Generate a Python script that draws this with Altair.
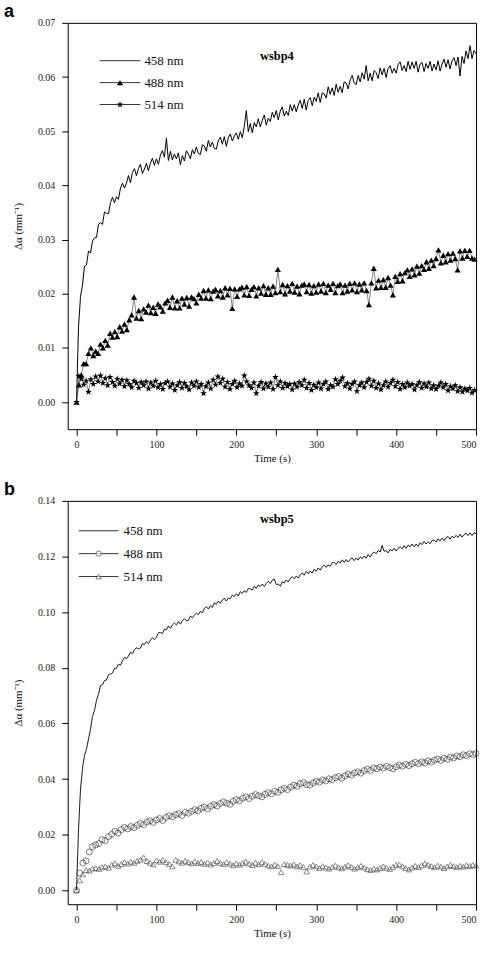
import altair as alt
import numpy as np
import pandas as pd

# ---------------- sample times ----------------
T_LINE = np.arange(0, 500.01, 2.5)      # continuous 458 nm traces
T_TOP_MARK = np.arange(0, 498.01, 3)    # wsbp4 488 / 514 nm traces
T_BOT_MARK = np.arange(0, 500.01, 4)    # wsbp5 488 / 514 nm traces

# ---------------- wsbp4 (mm^-1) ----------------
wsbp4_458 = [
    0.0000, 0.0138, 0.0195, 0.0216, 0.0251, 0.0253, 0.0279, 0.0275, 0.0297, 0.0303,
    0.0304, 0.0328, 0.0331, 0.0328, 0.0351, 0.0348, 0.0348, 0.0368, 0.0378, 0.0368,
    0.0379, 0.0374, 0.0395, 0.0404, 0.0395, 0.0404, 0.0418, 0.0405, 0.0424, 0.0431,
    0.0418, 0.0431, 0.0439, 0.0422, 0.0430, 0.0441, 0.0427, 0.0441, 0.0450, 0.0437,
    0.0449, 0.0439, 0.0456, 0.0464, 0.0452, 0.0487, 0.0446, 0.0463, 0.0447, 0.0458,
    0.0449, 0.0460, 0.0438, 0.0455, 0.0445, 0.0464, 0.0458, 0.0449, 0.0466, 0.0458,
    0.0471, 0.0459, 0.0457, 0.0475, 0.0473, 0.0463, 0.0483, 0.0471, 0.0480, 0.0468,
    0.0467, 0.0483, 0.0489, 0.0476, 0.0490, 0.0472, 0.0488, 0.0495, 0.0482, 0.0491,
    0.0497, 0.0485, 0.0499, 0.0488, 0.0509, 0.0538, 0.0499, 0.0514, 0.0497, 0.0516,
    0.0508, 0.0523, 0.0508, 0.0520, 0.0530, 0.0511, 0.0524, 0.0518, 0.0535, 0.0525,
    0.0538, 0.0521, 0.0537, 0.0545, 0.0528, 0.0537, 0.0529, 0.0549, 0.0537, 0.0549,
    0.0536, 0.0548, 0.0557, 0.0542, 0.0559, 0.0539, 0.0557, 0.0562, 0.0547, 0.0563,
    0.0555, 0.0571, 0.0553, 0.0571, 0.0569, 0.0561, 0.0582, 0.0568, 0.0580, 0.0566,
    0.0587, 0.0572, 0.0583, 0.0571, 0.0591, 0.0589, 0.0578, 0.0595, 0.0603, 0.0589,
    0.0586, 0.0603, 0.0591, 0.0608, 0.0596, 0.0621, 0.0593, 0.0607, 0.0593, 0.0612,
    0.0608, 0.0597, 0.0617, 0.0604, 0.0616, 0.0599, 0.0616, 0.0621, 0.0607, 0.0616,
    0.0607, 0.0623, 0.0628, 0.0612, 0.0621, 0.0610, 0.0629, 0.0614, 0.0628, 0.0616,
    0.0629, 0.0609, 0.0624, 0.0627, 0.0610, 0.0625, 0.0616, 0.0629, 0.0611, 0.0624,
    0.0613, 0.0630, 0.0611, 0.0624, 0.0633, 0.0618, 0.0632, 0.0615, 0.0630, 0.0636,
    0.0621, 0.0637, 0.0602, 0.0638, 0.0625, 0.0648, 0.0634, 0.0658, 0.0634, 0.0649,
    0.0643,
]

wsbp4_488 = [
    0.0000, 0.0032, 0.0050, 0.0071, 0.0071, 0.0090, 0.0100, 0.0086, 0.0094, 0.0090,
    0.0107, 0.0100, 0.0114, 0.0105, 0.0127, 0.0120, 0.0130, 0.0121, 0.0139, 0.0131,
    0.0144, 0.0134, 0.0152, 0.0161, 0.0194, 0.0155, 0.0169, 0.0154, 0.0172, 0.0166,
    0.0179, 0.0165, 0.0175, 0.0164, 0.0181, 0.0176, 0.0168, 0.0183, 0.0188, 0.0175,
    0.0194, 0.0174, 0.0187, 0.0174, 0.0192, 0.0181, 0.0193, 0.0177, 0.0194, 0.0191,
    0.0183, 0.0199, 0.0192, 0.0206, 0.0192, 0.0207, 0.0191, 0.0205, 0.0208, 0.0196,
    0.0206, 0.0194, 0.0211, 0.0198, 0.0210, 0.0173, 0.0209, 0.0195, 0.0209, 0.0212,
    0.0198, 0.0213, 0.0197, 0.0208, 0.0213, 0.0196, 0.0211, 0.0201, 0.0215, 0.0199,
    0.0211, 0.0199, 0.0214, 0.0202, 0.0245, 0.0204, 0.0217, 0.0200, 0.0215, 0.0205,
    0.0219, 0.0203, 0.0214, 0.0200, 0.0216, 0.0218, 0.0204, 0.0217, 0.0201, 0.0215,
    0.0203, 0.0218, 0.0205, 0.0219, 0.0202, 0.0216, 0.0208, 0.0219, 0.0202, 0.0215,
    0.0218, 0.0202, 0.0216, 0.0205, 0.0219, 0.0207, 0.0220, 0.0204, 0.0218, 0.0207,
    0.0220, 0.0206, 0.0180, 0.0220, 0.0247, 0.0211, 0.0225, 0.0212, 0.0226, 0.0212,
    0.0230, 0.0216, 0.0198, 0.0232, 0.0223, 0.0237, 0.0224, 0.0239, 0.0244, 0.0232,
    0.0246, 0.0235, 0.0251, 0.0238, 0.0252, 0.0245, 0.0259, 0.0247, 0.0262, 0.0252,
    0.0265, 0.0281, 0.0257, 0.0271, 0.0259, 0.0274, 0.0262, 0.0275, 0.0265, 0.0244,
    0.0279, 0.0266, 0.0280, 0.0269, 0.0280, 0.0266, 0.0264,
]

wsbp4_514 = [
    0.0000, 0.0048, 0.0043, 0.0032, 0.0039, 0.0019, 0.0042, 0.0033, 0.0047, 0.0038,
    0.0049, 0.0035, 0.0044, 0.0031, 0.0046, 0.0037, 0.0030, 0.0043, 0.0034, 0.0041,
    0.0029, 0.0040, 0.0033, 0.0027, 0.0039, 0.0035, 0.0026, 0.0037, 0.0031, 0.0038,
    0.0025, 0.0036, 0.0030, 0.0039, 0.0027, 0.0033, 0.0024, 0.0035, 0.0038, 0.0028,
    0.0034, 0.0022, 0.0031, 0.0037, 0.0026, 0.0035, 0.0029, 0.0023, 0.0036, 0.0030,
    0.0038, 0.0027, 0.0033, 0.0016, 0.0029, 0.0036, 0.0025, 0.0041, 0.0032, 0.0047,
    0.0035, 0.0043, 0.0028, 0.0037, 0.0024, 0.0033, 0.0039, 0.0027, 0.0034, 0.0030,
    0.0049, 0.0038, 0.0031, 0.0026, 0.0036, 0.0016, 0.0030, 0.0037, 0.0025, 0.0034,
    0.0028, 0.0036, 0.0024, 0.0046, 0.0031, 0.0038, 0.0026, 0.0035, 0.0029, 0.0033,
    0.0023, 0.0034, 0.0028, 0.0037, 0.0031, 0.0041, 0.0026, 0.0035, 0.0022, 0.0032,
    0.0027, 0.0036, 0.0025, 0.0033, 0.0038, 0.0024, 0.0031, 0.0028, 0.0042, 0.0033,
    0.0039, 0.0045, 0.0029, 0.0035, 0.0025, 0.0033, 0.0038, 0.0020, 0.0031, 0.0036,
    0.0027, 0.0037, 0.0043, 0.0030, 0.0039, 0.0026, 0.0034, 0.0023, 0.0031, 0.0038,
    0.0028, 0.0035, 0.0041, 0.0029, 0.0037, 0.0024, 0.0033, 0.0027, 0.0036, 0.0030,
    0.0033, 0.0023, 0.0031, 0.0037, 0.0026, 0.0034, 0.0028, 0.0036, 0.0025, 0.0031,
    0.0024, 0.0030, 0.0036, 0.0027, 0.0033, 0.0021, 0.0029, 0.0025, 0.0031, 0.0020,
    0.0027, 0.0019, 0.0025, 0.0021, 0.0026, 0.0017, 0.0022,
]

# ---------------- wsbp5 (mm^-1) ----------------
wsbp5_458 = [
    0.0000, 0.0217, 0.0364, 0.0438, 0.0485, 0.0507, 0.0544, 0.0578, 0.0625, 0.0646,
    0.0683, 0.0705, 0.0736, 0.0739, 0.0754, 0.0756, 0.0775, 0.0778, 0.0781, 0.0798,
    0.0798, 0.0813, 0.0809, 0.0825, 0.0837, 0.0833, 0.0842, 0.0856, 0.0851, 0.0864,
    0.0872, 0.0868, 0.0871, 0.0887, 0.0883, 0.0894, 0.0887, 0.0899, 0.0908, 0.0901,
    0.0910, 0.0926, 0.0927, 0.0923, 0.0939, 0.0936, 0.0950, 0.0942, 0.0954, 0.0961,
    0.0954, 0.0966, 0.0957, 0.0969, 0.0976, 0.0970, 0.0970, 0.0986, 0.0980, 0.0989,
    0.0996, 0.0991, 0.1003, 0.0998, 0.1013, 0.1020, 0.1011, 0.1023, 0.1017, 0.1033,
    0.1028, 0.1040, 0.1032, 0.1044, 0.1050, 0.1040, 0.1051, 0.1048, 0.1061, 0.1056,
    0.1066, 0.1058, 0.1074, 0.1067, 0.1077, 0.1071, 0.1085, 0.1084, 0.1079, 0.1093,
    0.1086, 0.1098, 0.1092, 0.1101, 0.1092, 0.1103, 0.1111, 0.1103, 0.1115, 0.1119,
    0.1099, 0.1101, 0.1093, 0.1109, 0.1105, 0.1116, 0.1108, 0.1121, 0.1127, 0.1120,
    0.1130, 0.1122, 0.1134, 0.1141, 0.1133, 0.1146, 0.1138, 0.1148, 0.1140, 0.1154,
    0.1147, 0.1159, 0.1151, 0.1163, 0.1169, 0.1161, 0.1170, 0.1165, 0.1178, 0.1178,
    0.1171, 0.1183, 0.1177, 0.1188, 0.1179, 0.1189, 0.1180, 0.1190, 0.1195, 0.1185,
    0.1195, 0.1187, 0.1199, 0.1192, 0.1202, 0.1194, 0.1207, 0.1198, 0.1210, 0.1216,
    0.1210, 0.1222, 0.1216, 0.1240, 0.1219, 0.1221, 0.1213, 0.1226, 0.1220, 0.1230,
    0.1220, 0.1230, 0.1235, 0.1228, 0.1239, 0.1230, 0.1241, 0.1235, 0.1245, 0.1235,
    0.1245, 0.1237, 0.1249, 0.1243, 0.1254, 0.1245, 0.1253, 0.1246, 0.1258, 0.1259,
    0.1252, 0.1264, 0.1256, 0.1266, 0.1257, 0.1267, 0.1272, 0.1262, 0.1273, 0.1267,
    0.1276, 0.1268, 0.1280, 0.1270, 0.1279, 0.1284, 0.1275, 0.1285, 0.1275, 0.1286,
    0.1281,
]

wsbp5_488 = [
    0.0000, 0.0062, 0.0098, 0.0106, 0.0138, 0.0157, 0.0163, 0.0168, 0.0182, 0.0179,
    0.0193, 0.0201, 0.0212, 0.0206, 0.0218, 0.0226, 0.0221, 0.0229, 0.0225, 0.0234,
    0.0240, 0.0236, 0.0245, 0.0250, 0.0244, 0.0253, 0.0258, 0.0251, 0.0262, 0.0268,
    0.0264, 0.0272, 0.0276, 0.0269, 0.0280, 0.0277, 0.0284, 0.0290, 0.0286, 0.0295,
    0.0299, 0.0293, 0.0302, 0.0308, 0.0303, 0.0312, 0.0318, 0.0313, 0.0309, 0.0320,
    0.0326, 0.0322, 0.0331, 0.0336, 0.0330, 0.0338, 0.0344, 0.0340, 0.0336, 0.0345,
    0.0351, 0.0347, 0.0356, 0.0352, 0.0361, 0.0367, 0.0362, 0.0371, 0.0378, 0.0374,
    0.0383, 0.0387, 0.0380, 0.0378, 0.0386, 0.0392, 0.0389, 0.0397, 0.0393, 0.0401,
    0.0398, 0.0405, 0.0409, 0.0403, 0.0411, 0.0418, 0.0414, 0.0422, 0.0426, 0.0421,
    0.0430, 0.0436, 0.0431, 0.0440, 0.0437, 0.0443, 0.0439, 0.0446, 0.0441, 0.0437,
    0.0444, 0.0450, 0.0446, 0.0453, 0.0448, 0.0455, 0.0460, 0.0455, 0.0462, 0.0458,
    0.0465, 0.0461, 0.0468, 0.0472, 0.0467, 0.0475, 0.0471, 0.0479, 0.0476, 0.0483,
    0.0480, 0.0487, 0.0484, 0.0491, 0.0488, 0.0492,
]

wsbp5_514 = [
    0.0000, 0.0036, 0.0057, 0.0073, 0.0071, 0.0078, 0.0080, 0.0077, 0.0083, 0.0086,
    0.0081, 0.0092, 0.0097, 0.0088, 0.0094, 0.0101, 0.0096, 0.0103, 0.0099, 0.0106,
    0.0110, 0.0118, 0.0105, 0.0099, 0.0093, 0.0108, 0.0103, 0.0109, 0.0101, 0.0095,
    0.0086, 0.0110, 0.0104, 0.0099, 0.0106, 0.0101, 0.0097, 0.0104, 0.0098, 0.0102,
    0.0095, 0.0100, 0.0093, 0.0098, 0.0105, 0.0099, 0.0094, 0.0101, 0.0096, 0.0090,
    0.0097, 0.0092, 0.0098, 0.0103, 0.0096, 0.0091, 0.0099, 0.0094, 0.0101, 0.0095,
    0.0089, 0.0086, 0.0092, 0.0087, 0.0065, 0.0094, 0.0092, 0.0089, 0.0093, 0.0086,
    0.0090, 0.0084, 0.0068, 0.0085, 0.0091, 0.0086, 0.0080, 0.0087, 0.0082, 0.0078,
    0.0084, 0.0089, 0.0083, 0.0079, 0.0085, 0.0090, 0.0084, 0.0078, 0.0083, 0.0088,
    0.0082, 0.0076, 0.0073, 0.0078, 0.0075, 0.0080, 0.0086, 0.0081, 0.0077, 0.0084,
    0.0091, 0.0093, 0.0086, 0.0080, 0.0075, 0.0082, 0.0088, 0.0084, 0.0090, 0.0097,
    0.0092, 0.0087, 0.0083, 0.0089, 0.0085, 0.0080, 0.0086, 0.0091, 0.0087, 0.0083,
    0.0088, 0.0085, 0.0090, 0.0087, 0.0091, 0.0089,
]

LEGEND_LABELS = ["458 nm", "488 nm", "514 nm"]

assert len(wsbp4_458) == len(T_LINE) and len(wsbp5_458) == len(T_LINE)
assert len(wsbp4_488) == len(T_TOP_MARK) and len(wsbp4_514) == len(T_TOP_MARK)
assert len(wsbp5_488) == len(T_BOT_MARK) and len(wsbp5_514) == len(T_BOT_MARK)

SERIF = "Liberation Serif"
SANS = "Liberation Sans"
STAR = ("M0,-1L0.2245,-0.309L0.951,-0.309L0.363,0.118L0.588,0.809L0,0.382"
        "L-0.588,0.809L-0.363,0.118L-0.951,-0.309L-0.2245,-0.309Z")

X_SCALE = alt.Scale(domain=[-11, 500], nice=False, zero=False)


def x_enc():
    return alt.X(
        "t:Q", scale=X_SCALE,
        axis=alt.Axis(values=list(range(0, 501, 50)), format="d",
                      labelExpr="datum.value % 100 === 0 ? datum.label : ''",
                      title="Time (s)", tickSize=6, labelPadding=4,
                      titlePadding=3, grid=False, domain=False),
    )


def y_enc(top, step, label_every):
    vals = [round(i * step, 4) for i in range(int(round(top / step)) + 1)]
    expr = ("abs(datum.value / %g - round(datum.value / %g)) < 0.001 ? datum.label : ''"
            % (label_every, label_every))
    return alt.Y(
        "v:Q", scale=alt.Scale(domain=[-0.005, top], nice=False, zero=False),
        axis=alt.Axis(values=vals, format=".2f", labelExpr=expr,
                      title="Δα (mm⁻¹)", tickSize=6, labelPadding=7,
                      titlePadding=14, grid=False, domain=False),
    )


def frame_df(t, v):
    return pd.DataFrame({"t": t, "v": v})


def legend(entries, x0, x1, xt, y0, dy):
    layers = []
    for i, (label, marker) in enumerate(entries):
        y = y0 + i * dy
        row = alt.Chart(pd.DataFrame({"label": [label]}))
        layers.append(row.mark_rule(color="black", strokeWidth=0.8).encode(
            x=alt.value(x0), x2=alt.value(x1), y=alt.value(y)))
        if marker is not None:
            layers.append(row.mark_point(**marker).encode(
                x=alt.value((x0 + x1) / 2), y=alt.value(y)))
        layers.append(row.mark_text(font=SERIF, fontSize=13, align="left",
                                    baseline="middle", color="#111").encode(
            x=alt.value(xt), y=alt.value(y), text="label:N"))
    return layers


def tag(text, x, y, font, size, weight="bold"):
    return alt.Chart(pd.DataFrame({"s": [text]})).mark_text(
        font=font, fontSize=size, fontWeight=weight, align="left",
        baseline="middle", color="black").encode(
        x=alt.value(x), y=alt.value(y), text="s:N")


# ---------------- panel a: wsbp4 ----------------
ya = y_enc(0.07, 0.005, 0.01)
tri_fill = dict(shape="triangle-up", filled=True, color="black", size=38, opacity=1)
star_fill = dict(shape=STAR, filled=True, color="black", size=52, opacity=1)

a_458 = alt.Chart(frame_df(T_LINE, wsbp4_458)).mark_line(
    color="black", strokeWidth=1.0).encode(x=x_enc(), y=ya)
a_488_line = alt.Chart(frame_df(T_TOP_MARK, wsbp4_488)).mark_line(
    color="#333", strokeWidth=0.6).encode(x="t:Q", y="v:Q")
a_488_pts = alt.Chart(frame_df(T_TOP_MARK, wsbp4_488)).mark_point(**tri_fill).encode(
    x="t:Q", y="v:Q")
a_514_line = alt.Chart(frame_df(T_TOP_MARK, wsbp4_514)).mark_line(
    color="#333", strokeWidth=0.6).encode(x="t:Q", y="v:Q")
a_514_pts = alt.Chart(frame_df(T_TOP_MARK, wsbp4_514)).mark_point(**star_fill).encode(
    x="t:Q", y="v:Q")

panel_a = alt.layer(
    a_458, a_488_line, a_488_pts, a_514_line, a_514_pts,
    *legend(list(zip(LEGEND_LABELS, [None, tri_fill, star_fill])), 32, 73, 77, 38, 22),
    tag("wsbp4", 193, 33, SERIF, 12.5),
    tag("a", -64, -11, SANS, 18),
).properties(width=410, height=408)

# ---------------- panel b: wsbp5 ----------------
yb = y_enc(0.14, 0.01, 0.02)
circ_open = dict(shape="circle", filled=False, color="#333", size=36, strokeWidth=0.9)
tri_open = dict(shape="triangle-up", filled=False, color="#444", size=32, strokeWidth=0.9)

b_458 = alt.Chart(frame_df(T_LINE, wsbp5_458)).mark_line(
    color="black", strokeWidth=0.9).encode(x=x_enc(), y=yb)
b_488 = alt.Chart(frame_df(T_BOT_MARK, wsbp5_488)).mark_point(**circ_open).encode(
    x="t:Q", y="v:Q")
b_514 = alt.Chart(frame_df(T_BOT_MARK, wsbp5_514)).mark_point(**tri_open).encode(
    x="t:Q", y="v:Q")

leg_circ = dict(circ_open, fill="white", size=28)
leg_tri = dict(tri_open, fill="white", size=28)

panel_b = alt.layer(
    b_458, b_488, b_514,
    *legend(list(zip(LEGEND_LABELS, [None, leg_circ, leg_tri])), 11, 51, 56, 30, 23),
    tag("wsbp5", 193, 18, SERIF, 12.5),
    tag("b", -64, -11, SANS, 18),
).properties(width=410, height=405)

chart = alt.vconcat(panel_a, panel_b, spacing=16).properties(
    padding={"left": 3, "top": 0, "right": 0, "bottom": 0},
    background="white",
).configure_view(
    stroke="black", strokeWidth=1,
).configure_axis(
    labelFont=SERIF, labelFontSize=10, labelColor="#222",
    titleFont=SERIF, titleFontSize=11, titleFontWeight="normal", titleColor="#111",
    tickColor="black", tickWidth=1,
)

chart.save("out.html", embed_options={"renderer": "svg", "actions": False})
